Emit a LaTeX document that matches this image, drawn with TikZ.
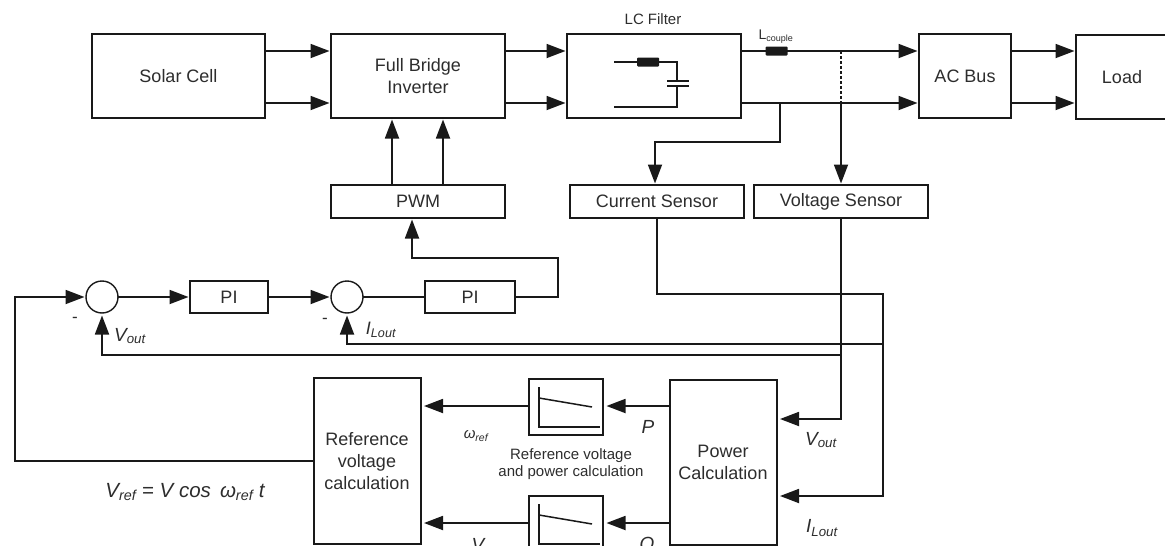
\documentclass[tikz,border=0pt]{standalone}
\usepackage{fontspec}
\setmainfont{Liberation Sans}
\usepackage{xcolor}
\usetikzlibrary{positioning,calc,arrows.meta}
\definecolor{wireblack}{RGB}{25,25,25}
\definecolor{labelgray}{RGB}{45,45,45}
\newcommand{\fsz}[2]{\fontsize{#1pt}{#2pt}\selectfont}

\begin{document}
\begin{tikzpicture}[x=1pt,y=-1pt,
					blockbox/.style={
						shape=rectangle,
						draw=wireblack,
						line width=2pt,
						fill=white,
						inner sep=0pt,
						outer sep=0pt,
						align=center,
						text=labelgray,
						font=\fsz{18}{22}
					},
					sumnode/.style={
						shape=circle,
						draw=wireblack,
						line width=1.4pt,
						fill=white,
						inner sep=0pt,
						outer sep=0pt,
						minimum size=32pt
					},
					indnode/.style={
						shape=rectangle,
						fill=wireblack,
						rounded corners=1pt,
						inner sep=0pt,
						minimum width=22pt,
						minimum height=9pt
					},
					txtlabel/.style={text=labelgray,inner sep=0pt,align=center,font=\fsz{15}{17.5}},
					mathlabel/.style={text=labelgray,inner sep=0pt,font=\fsz{19}{21}\itshape},
					wire/.style={draw=wireblack,line width=1.8pt},
					arrowwire/.style={wire,shorten >=1.5pt,-{Triangle[length=19pt,width=14pt]}},
					thinwire/.style={draw=wireblack,line width=1.5pt}
					]
					\clip (0,0) rectangle (1165,546);
					
					% power path
					\node[blockbox,minimum width=173,minimum height=84] (solar) at (178.5,76) {Solar Cell};
					\node[blockbox,minimum width=174,minimum height=84] (inverter) at (418,76) {Full Bridge\\Inverter};
					\node[blockbox,minimum width=174,minimum height=84] (filter) at (654,76) {};
					\node[blockbox,minimum width=92,minimum height=84] (acbus) at (965,76) {AC Bus};
					\node[blockbox,minimum width=92,minimum height=84] (load) at (1122,77) {Load};
					\node[txtlabel] (filtername) at (653,19) {LC Filter};
					\coordinate (topline) at (0,51);
					\coordinate (botline) at (0,103);
					
					\foreach \src/\dst in {solar/inverter,inverter/filter,filter/acbus,acbus/load}{
						\draw[arrowwire] (\src.east |- topline) -- (\dst.west |- topline);
						\draw[arrowwire] (\src.east |- botline) -- (\dst.west |- botline);
					}
					
					% filter inside
					\node[indnode] (lfilter) at (648,62) {};
					\coordinate (filtertl) at (614,62);
					\coordinate (filtertr) at (677,62);
					\coordinate (capup) at (677,81);
					\coordinate (capdown) at (677,86);
					\coordinate (filterbr) at (677,107);
					\coordinate (filterbl) at (614,107);
					\draw[thinwire] (filtertl) -- (lfilter) -- (filtertr) -- (capup);
					\draw[thinwire] (capdown) -- (filterbr) -- (filterbl);
					\draw[wire] ([xshift=-10]capup) -- ([xshift=12]capup);
					\draw[wire] ([xshift=-10]capdown) -- ([xshift=12]capdown);
					
					% coupling
					\node[indnode] (lcouple) at (776.5,51) {};
					\node[text=labelgray,inner sep=0pt,font=\fsz{14}{16}] (lcouplename) at (776,37) {L\textsubscript{\fsz{9}{10}couple}};
					\coordinate (vtap) at (841,51);
					\coordinate (vbase) at (841,103);
					\coordinate (itap) at (780,103);
					\coordinate (ibend) at (780,142);
					\coordinate (idrop) at (655,142);
					\draw[draw=wireblack,line width=1.8pt,densely dashed] (vtap) -- (vbase);
					
					% sensors and modulator
					\node[blockbox,minimum width=174,minimum height=33] (isensor) at (657,201.5) {Current Sensor};
					\node[blockbox,minimum width=174,minimum height=33] (vsensor) at (841,201.5) {Voltage Sensor};
					\node[blockbox,minimum width=174,minimum height=33] (pwm) at (418,201.5) {PWM};
					\draw[arrowwire] (itap) -- (ibend) -- (idrop) -- (idrop |- isensor.north);
					\draw[arrowwire] (vbase) -- (vsensor.north);
					\draw[arrowwire] ([xshift=-26]pwm.north) -- ([xshift=-26]pwm.north |- inverter.south);
					\draw[arrowwire] ([xshift=25]pwm.north) -- ([xshift=25]pwm.north |- inverter.south);
					
					% control loop
					\node[sumnode] (sumv) at (102,297) {};
					\node[blockbox,minimum width=78,minimum height=32] (piv) at (229,297) {PI};
					\node[sumnode] (sumi) at (347,297) {};
					\node[blockbox,minimum width=90,minimum height=32] (pii) at (470,297) {PI};
					\node[txtlabel,font=\fsz{17}{19}] (minusv) at (75,320) {-};
					\node[txtlabel,font=\fsz{17}{19}] (minusi) at (325,321) {-};
					\coordinate (pwmbend) at (558,258);
					\coordinate (pwmdrop) at (412,258);
					\draw[arrowwire] (sumv) -- (piv);
					\draw[arrowwire] (piv) -- (sumi);
					\draw[wire] (sumi) -- (pii);
					\draw[arrowwire] (pii.east) -| (pwmbend) -- (pwmdrop) -- (pwmdrop |- pwm.south);
					
					% calculation blocks
					\node[blockbox,minimum width=107,minimum height=166] (refcalc) at (367,461) {Reference\\voltage\\calculation};
					\node[blockbox,minimum width=107,minimum height=165] (powercalc) at (723,462.5) {Power\\Calculation};
					\node[blockbox,minimum width=74,minimum height=56] (droopp) at (566,407) {};
					\node[blockbox,minimum width=74,minimum height=56] (droopq) at (566,524) {};
					\foreach \dn in {droopp,droopq}{
						\draw[thinwire] ([xshift=10,yshift=-8]\dn.north west) -- ([xshift=10,yshift=8]\dn.south west) -- ([xshift=-3,yshift=8]\dn.south east);
						\draw[thinwire] ([xshift=10,yshift=-19]\dn.north west) -- ([xshift=-11,yshift=-28]\dn.north east);
					}
					\coordinate (pline) at (0,406);
					\coordinate (qline) at (0,523);
					\foreach \lne in {pline,qline}{
						\draw[arrowwire] (powercalc.west |- \lne) -- ([xshift=2]droopp.east |- \lne);
						\draw[arrowwire] (droopp.west |- \lne) -- ([xshift=2]refcalc.east |- \lne);
					}
					
					% feedback
					\coordinate (leftdown) at (15,461);
					\coordinate (vbus) at (841,355);
					\coordinate (ibus) at (883,344);
					\coordinate (icross) at (883,294);
					\coordinate (vpower) at (841,419);
					\coordinate (ipower) at (883,496);
					\draw[arrowwire] (refcalc.west |- leftdown) -- (leftdown) |- (sumv.west);
					\draw[arrowwire] (vsensor.south) -- (vpower) -- ([xshift=2]powercalc.east |- vpower);
					\draw[arrowwire] (isensor.south) |- (icross) -- (ipower) -- ([xshift=2]powercalc.east |- ipower);
					\draw[arrowwire] (vbus) -| ([yshift=-1]sumv.south);
					\draw[arrowwire] (ibus) -| ([yshift=-1]sumi.south);
					
					% labels
					\node[mathlabel] (vout1) at (130,336) {V\textsubscript{out}};
					\node[mathlabel,font=\fsz{18}{20}\itshape] (ilout1) at (381,330) {I\textsubscript{Lout}};
					\node[mathlabel] (vout2) at (821,440) {V\textsubscript{out}};
					\node[mathlabel] (ilout2) at (822,528) {I\textsubscript{Lout}};
					\node[mathlabel] (plabel) at (648,427) {P};
					\node[mathlabel] (qlabel) at (647,546) {Q};
					\node[mathlabel] (vlabel) at (478,545) {V};
					\node[mathlabel,font=\fsz{15}{17}\itshape] (wref) at (476,436) {ω\textsubscript{ref}};
					\node[mathlabel,font=\fsz{20.5}{22}\itshape] (vrefeq) at (185,492) {V\textsubscript{ref} = V cos\, ω\textsubscript{ref} t};
					\node[txtlabel,font=\fsz{15}{17.5}] (calcname) at (571,464) {Reference voltage\\and power calculation};
				\end{tikzpicture}
\end{document}
